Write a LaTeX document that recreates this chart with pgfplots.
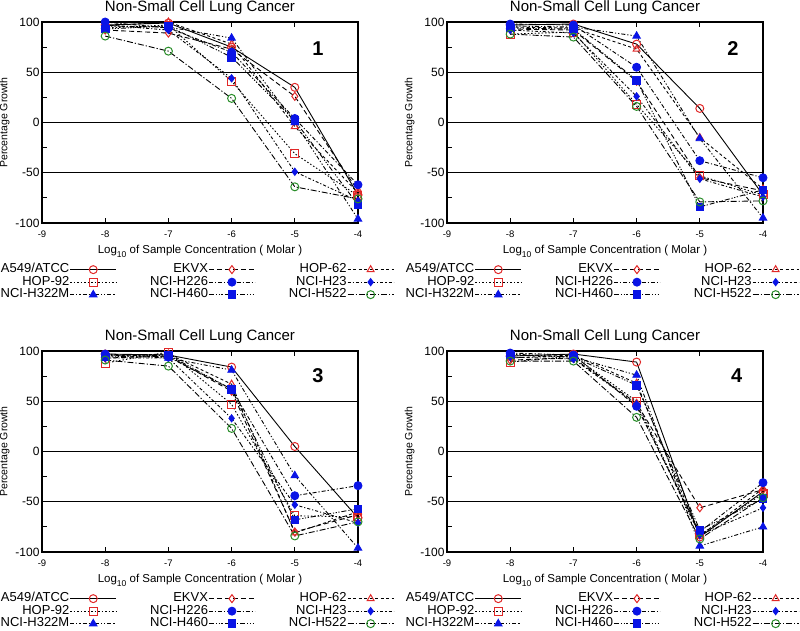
\documentclass[border=0pt]{standalone}
\usepackage{fontspec}
\setmainfont{Liberation Sans}
\usepackage{pgfplots}
\usepackage{pgfplotstable}
\pgfplotsset{compat=1.18}
\definecolor{mred}{RGB}{225,40,40}
\definecolor{mblue}{RGB}{10,20,230}
\definecolor{mgreen}{RGB}{40,140,40}
\newcommand\fs[1]{\fontsize{#1}{#1}\selectfont}

\pgfplotstableread{
x A E H62 H92 H226 H23 H322 H460 H522
-8 97 92 96 94 100 97 96 93 86
-7 99 89 100 97 94 92 95 96 71
-6 75 73 78 41 70 44 84 65 24
-5 35 26 -4 -31 4 -49 0 2 -64
-4 -72 -68 -70 -73 -62 -78 -96 -82 -76
}\tA
\pgfplotstableread{
x A E H62 H92 H226 H23 H322 H460 H522
-8 97 93 95 88 98 92 96 94 88
-7 98 92 94 90 97 89 95 93 85
-6 78 41 73 18 55 26 86 42 16
-5 14 -55 -15 -53 -38 -56 -16 -84 -79
-4 -72 -68 -66 -72 -55 -74 -95 -67 -78
}\tB
\pgfplotstableread{
x A E H62 H92 H226 H23 H322 H460 H522
-8 97 93 95 88 97 93 96 94 91
-7 96 95 97 99 94 93 93 96 85
-6 84 60 67 47 62 33 81 62 23
-5 5 -80 -81 -64 -44 -53 -24 -68 -84
-4 -66 -63 -60 -65 -34 -71 -96 -57 -70
}\tC
\pgfplotstableread{
x A E H62 H92 H226 H23 H322 H460 H522
-8 95 91 93 89 98 94 97 96 90
-7 97 93 96 95 96 92 94 94 90
-6 89 48 68 50 45 47 76 66 34
-5 -85 -56 -84 -83 -80 -83 -94 -78 -87
-4 -40 -38 -37 -42 -31 -56 -75 -47 -46
}\tD

\pgfplotsset{
  base/.style={black, line width=0.9pt, mark size=4pt},
  sA/.style={base, solid, mark=o, mark options={solid, draw=mred, line width=1pt}},
  sE/.style={base, dash pattern=on 5pt off 3pt, mark=diamond, mark options={solid, draw=mred, line width=1pt}},
  sH62/.style={base, dash pattern=on 3pt off 2.5pt, mark=triangle, mark options={solid, draw=mred, line width=1pt}},
  sH92/.style={base, dash pattern=on 1.5pt off 2pt, mark=square, mark options={solid, draw=mred, line width=1pt}},
  sH226/.style={base, dash pattern=on 4pt off 2pt on 1.2pt off 2pt, mark=*, mark options={solid, draw=mblue, fill=mblue}},
  sH23/.style={base, dash pattern=on 3pt off 2pt on 1.2pt off 2pt, mark=diamond*, mark size=3.6pt, mark options={solid, draw=mblue, fill=mblue}},
  sH322/.style={base, dash pattern=on 4pt off 2pt on 1.2pt off 2pt on 1.2pt off 2pt, mark=triangle*, mark size=4.3pt, mark options={solid, draw=mblue, fill=mblue}},
  sH460/.style={base, dash pattern=on 5pt off 2pt on 1.2pt off 1.5pt on 1.2pt off 1.5pt on 1.2pt off 2pt, mark=square*, mark size=3.8pt, mark options={solid, draw=mblue, fill=mblue}},
  sH522/.style={base, dash pattern=on 6pt off 2pt on 1.2pt off 2pt, mark=o, mark options={solid, draw=mgreen, line width=1pt}},
  panel/.style={
    scale only axis, width=316pt, height=201pt,
    xmin=-9, xmax=-4, ymin=-100, ymax=100,
    xtick={-9,-8,-7,-6,-5,-4}, ytick={-100,-50,0,50,100},
    minor ytick={-75,-25,25,75},
    xtick pos=both, ytick pos=left,
    tick align=inside,
    major tick length=5pt, minor tick length=5pt,
    tick style={black, line width=0.9pt},
    ymajorgrids, major grid style={black, line width=1.1pt},
    axis line style={black, line width=1.2pt},
    clip=false,
    /pgf/number format/assume math mode=true,
    yticklabel style={font=\fs{12}, xshift=1pt},
    xticklabel style={font=\fs{9.5}, yshift=-4pt},
    title={Non-Small Cell Lung Cancer},
    every axis title/.style={at={(axis description cs:0.5,1)}, anchor=base, yshift=10.5pt, font=\fs{15}},
    ylabel={Percentage Growth},
    every axis y label/.style={at={(axis description cs:-0.118,0.5)}, rotate=90, anchor=center, font=\fs{10.5}},
    xlabel={Log\raisebox{-3.5pt}{\fs{8.5}10} of Sample Concentration ( Molar )},
    every axis x label/.style={at={(axis description cs:0.5,-0.142)}, anchor=center, font=\fs{11.5}},
    legend columns=3,
    legend plot pos=right,
    legend cell align=right,
    legend image code/.code={\draw[mark repeat=2,mark phase=2,#1] plot coordinates {(0pt,0pt) (23pt,0pt) (46pt,0pt)};},
    legend style={at={(axis description cs:-0.133,-0.2)}, anchor=north west, draw=none, fill=none, inner sep=0pt, font=\fs{13},
      row sep=0pt,
      nodes={inner sep=0.5pt, text height=9pt, text depth=2.5pt},
      /tikz/every even column/.append style={column sep=33pt}},
  }
}

\newcommand\panel[6]{%
\begin{axis}[panel, at={(#1,#2)}, anchor=north west]
\addplot[sA] table[x=x,y=A]{#3}; \addlegendentry{A549/ATCC}
\addplot[sE] table[x=x,y=E]{#3}; \addlegendentry{EKVX}
\addplot[sH62] table[x=x,y=H62]{#3}; \addlegendentry{HOP-62}
\addplot[sH92] table[x=x,y=H92]{#3}; \addlegendentry{HOP-92}
\addplot[sH226] table[x=x,y=H226]{#3}; \addlegendentry{NCI-H226}
\addplot[sH23] table[x=x,y=H23]{#3}; \addlegendentry{NCI-H23}
\addplot[sH322] table[x=x,y=H322]{#3}; \addlegendentry{NCI-H322M}
\addplot[sH460] table[x=x,y=H460]{#3}; \addlegendentry{NCI-H460}
\addplot[sH522] table[x=x,y=H522]{#3}; \addlegendentry{NCI-H522}
\node[font=\bfseries\fs{20}, anchor=center] at (rel axis cs:#5,#6) {#4};
\end{axis}}

\begin{document}
\begin{tikzpicture}
\path[use as bounding box] (0,0) rectangle (800pt,-630pt);
\panel{42pt}{-22pt}{\tA}{1}{0.873}{0.866}
\panel{447pt}{-22pt}{\tB}{2}{0.905}{0.866}
\panel{42pt}{-351pt}{\tC}{3}{0.873}{0.876}
\panel{447pt}{-351pt}{\tD}{4}{0.917}{0.876}
\end{tikzpicture}
\end{document}
